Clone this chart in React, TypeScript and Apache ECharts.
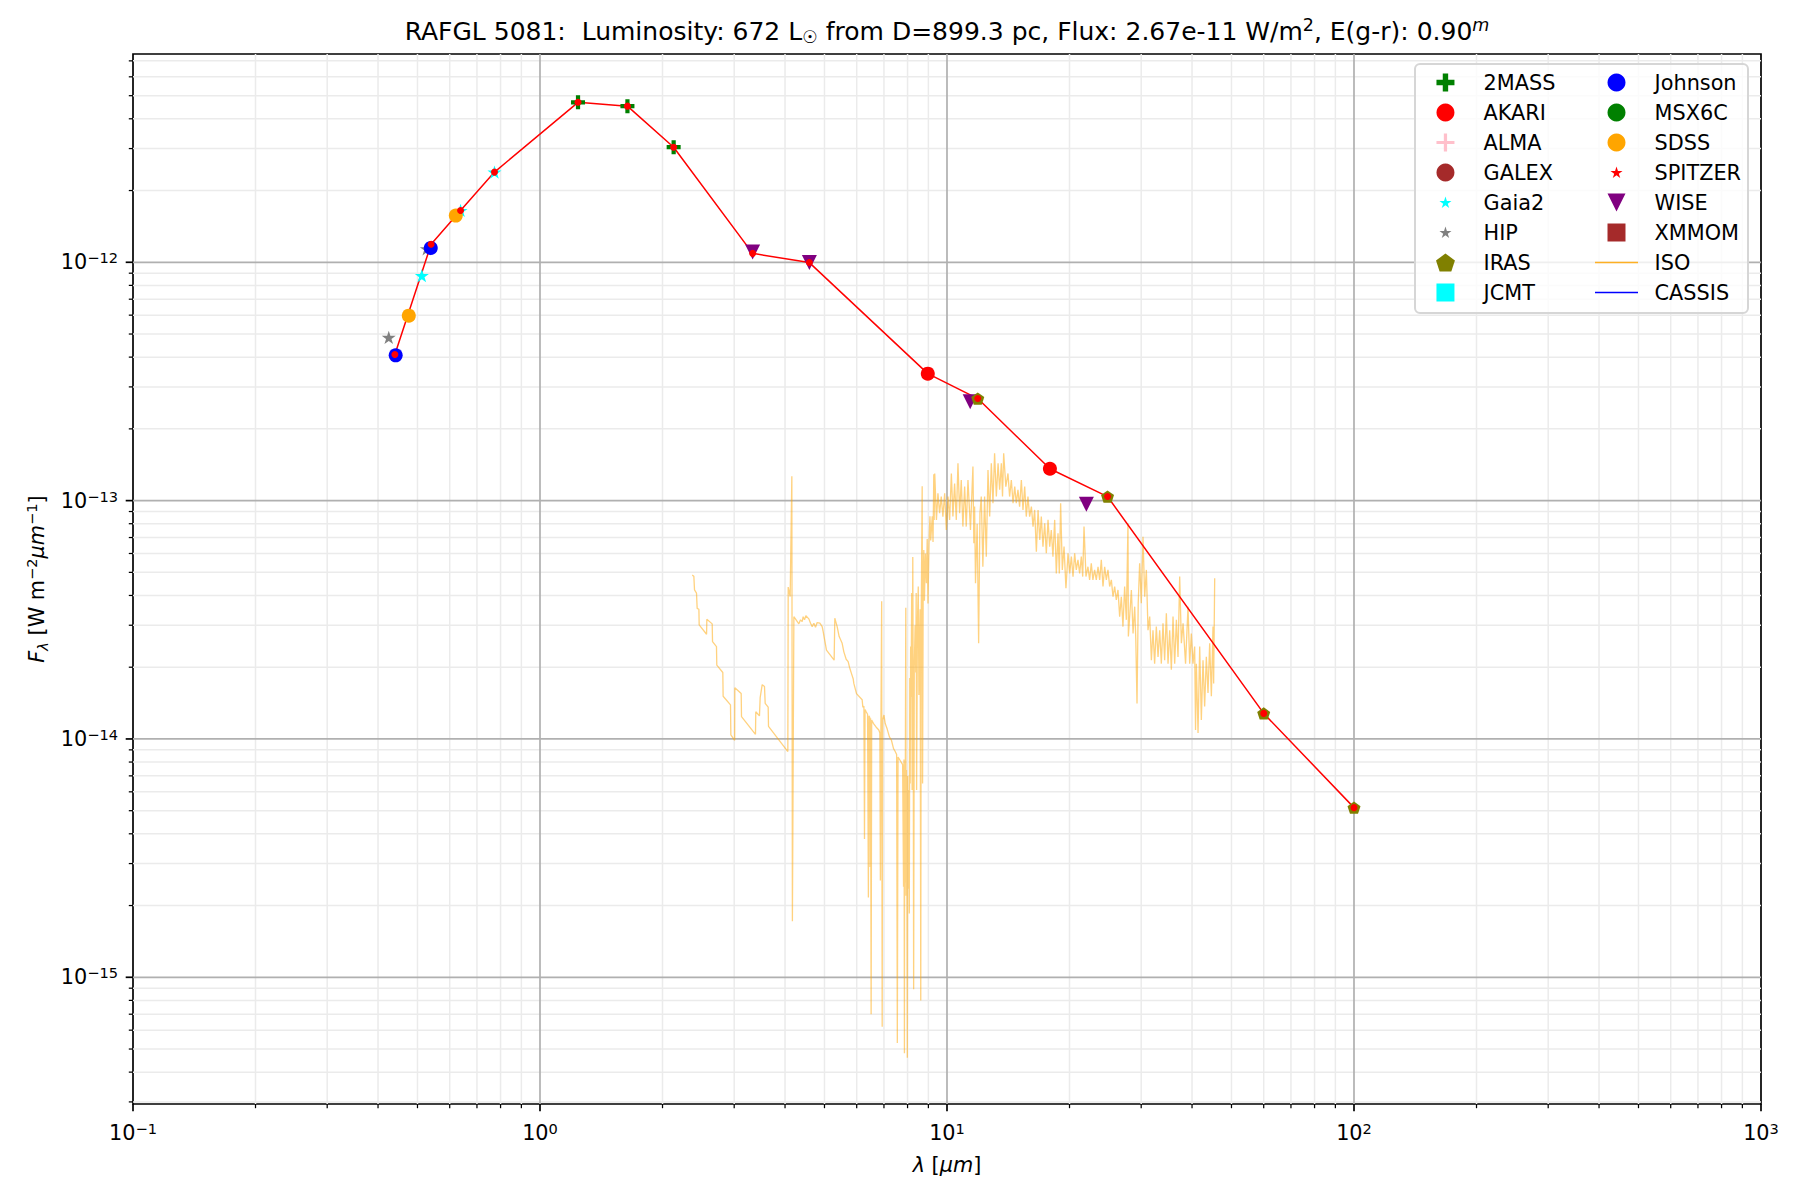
import React, { useEffect, useRef } from "react";
import * as echarts from "echarts";

const FONT = "DejaVu Sans";

// ---- axis ranges and ticks ----
const X_MIN = 0.1;
const X_MAX = 1000;
const Y_MIN = 2.94e-16;
const Y_MAX = 7.48e-12;
const X_DECADES = [0.1, 1, 10, 100, 1000];
const Y_DECADES = [1e-16, 1e-15, 1e-14, 1e-13, 1e-12, 1e-11];
const MINOR_STEPS = [2, 3, 4, 5, 6, 7, 8, 9];

// ---- photometry (wavelength µm, flux W m^-2 µm^-1) ----
const MASS2 = [[1.24, 4.69e-12], [1.64, 4.52e-12], [2.13, 3.04e-12]];
const AKARI = [[8.97, 3.41e-13], [17.9, 1.36e-13]];
const GAIA2 = [[0.5125, 8.79e-13], [0.638, 1.65e-12], [0.773, 2.39e-12]];
const HIP = [[0.425, 4.84e-13], [0.527, 1.14e-12]];
const IRAS = [[11.9, 2.68e-13], [24.8, 1.04e-13], [60, 1.28e-14], [100, 5.15e-15]];
const JOHNSON = [[0.442, 4.07e-13], [0.539, 1.148e-12]];
const SDSS = [[0.476, 5.97e-13], [0.621, 1.57e-12]];
const WISE = [[3.33, 1.105e-12], [4.59, 9.97e-13], [11.4, 2.6e-13], [22.0, 9.65e-14]];

// ---- selected SED (red line) ----
const SED_WAVE = [0.44, 0.54, 0.638, 0.773, 1.24, 1.64, 2.13, 3.33, 4.59, 8.97, 11.9, 17.9, 24.8, 60, 100];
const SED_FLUX = [4.1e-13, 1.19e-12, 1.65e-12, 2.39e-12, 4.69e-12, 4.52e-12, 3.04e-12, 1.09e-12, 9.97e-13, 3.41e-13, 2.68e-13, 1.36e-13, 1.04e-13, 1.28e-14, 5.15e-15];

// ---- ISO spectrum ----
const ISO_WAVE = [
  2.366, 2.388, 2.397, 2.424, 2.433, 2.457, 2.461, 2.566, 2.570, 2.649, 2.654, 2.714, 2.719, 2.813, 2.818, 2.938, 2.944, 3.008, 3.011,
  3.121, 3.127, 3.384, 3.390, 3.461, 3.475, 3.515, 3.561, 3.575, 3.636, 3.643, 4.064, 4.072, 4.118, 4.157, 4.170, 4.205, 4.325, 4.366,
  4.407, 4.432, 4.466, 4.500, 4.577, 4.621, 4.664, 4.708, 4.753, 4.797, 4.871, 4.935, 4.963, 5.057, 5.281, 5.301, 5.372, 5.433, 5.526,
  5.579, 5.653, 5.717, 5.760, 5.826, 5.881, 5.903, 5.993, 6.188, 6.211,
  6.25, 6.27, 6.29, 6.33, 6.38, 6.41, 6.43, 6.46, 6.47, 6.49, 6.51, 6.53, 6.60, 6.70, 6.80, 6.84, 6.86, 6.88, 6.91, 6.93, 6.95, 7.00,
  7.05, 7.13, 7.22, 7.30, 7.39, 7.45, 7.52, 7.55, 7.58, 7.68, 7.78, 7.82, 7.84, 7.86, 7.87, 7.88, 7.90, 7.92, 7.93, 7.95, 7.97, 7.99,
  8.01, 8.03, 8.06, 8.08, 8.10, 8.12, 8.14, 8.16, 8.19, 8.21, 8.24, 8.26, 8.28, 8.31, 8.35, 8.38, 8.40, 8.42, 8.46, 8.50, 8.53, 8.56,
  8.59, 8.62, 8.64, 8.69, 8.71, 8.74, 8.77, 8.80, 8.85, 8.90, 8.94, 8.98, 9.03, 9.08, 9.12, 9.20, 9.24, 9.28, 9.30,
  9.33, 9.42, 9.50, 9.59, 9.68, 9.77, 9.87, 9.96, 10.06, 10.15, 10.25, 10.34, 10.44, 10.54, 10.64, 10.74, 10.84, 10.94, 11.05, 11.15,
  11.26, 11.42, 11.58, 11.64, 11.69, 11.75, 11.86, 11.96, 12.05, 12.14, 12.25, 12.37, 12.49, 12.61, 12.73, 12.85, 12.97, 13.09, 13.22,
  13.35, 13.47, 13.60, 13.69, 13.78, 13.95, 14.12, 14.25, 14.39, 14.53, 14.67, 14.80, 14.94, 15.08, 15.23, 15.37, 15.52, 15.66, 15.81,
  15.96, 16.12, 16.27, 16.42, 16.58, 16.74, 16.90, 17.05, 17.21, 17.38, 17.54, 17.71, 17.88, 18.04, 18.21, 18.39, 18.56, 18.74, 18.88,
  19.02, 19.20, 19.39, 19.60, 19.83, 20.02, 20.21, 20.40, 20.59, 20.78, 20.98, 21.18, 21.38, 21.55, 21.71, 21.95, 22.20, 22.41, 22.62,
  22.83, 23.05, 23.27, 23.50, 23.72, 23.94, 24.17, 24.40, 24.63, 24.86, 25.10, 25.34, 25.58, 25.82, 26.06, 26.31, 26.56, 26.81, 27.06,
  27.32, 27.58, 27.84, 27.90, 28.38, 28.65, 28.92, 29.10, 29.30, 29.50, 29.74, 30.02, 30.31, 30.60, 30.89, 31.18, 31.48, 31.78, 32.07,
  32.37, 32.68, 33.00, 33.31, 33.62, 33.94, 34.26, 34.59, 34.92, 35.25, 35.58, 35.92, 36.26, 36.61, 36.95, 37.30, 37.66, 38.02, 38.56,
  39.10, 39.47, 39.84, 40.22, 40.60, 40.80, 40.99, 41.38, 41.77, 42.16, 42.56, 42.96, 43.37, 43.78, 44.20, 44.62, 45.04, 45.20, 45.47,
];
const ISO_FLUX = [
  4.87e-14, 4.81e-14, 4.22e-14, 4.09e-14, 3.53e-14, 3.50e-14, 3.01e-14, 2.75e-14, 3.18e-14, 3.04e-14, 2.56e-14, 2.44e-14, 2.04e-14, 1.90e-14, 1.51e-14, 1.39e-14, 1.04e-14, 9.87e-15, 1.64e-14,
  1.55e-14, 1.24e-14, 1.046e-14, 1.30e-14, 1.25e-14, 1.49e-14, 1.69e-14, 1.66e-14, 1.41e-14, 1.36e-14, 1.13e-14, 8.85e-15, 4.34e-14, 3.96e-14, 1.266e-13, 1.72e-15, 3.26e-14, 3.04e-14, 3.16e-14,
  3.11e-14, 3.26e-14, 3.16e-14, 3.29e-14, 3.19e-14, 3.06e-14, 2.96e-14, 3.06e-14, 2.94e-14, 3.08e-14, 3.06e-14, 2.96e-14, 2.82e-14, 2.36e-14, 2.14e-14, 3.21e-14, 2.96e-14, 2.69e-14, 2.52e-14,
  2.32e-14, 2.16e-14, 2.11e-14, 2.00e-14, 1.88e-14, 1.79e-14, 1.71e-14, 1.55e-14, 1.46e-14, 1.36e-14,
  1.37e-14, 3.80e-15, 1.33e-14, 1.30e-14, 1.27e-14, 2.16e-15, 1.25e-14, 1.23e-14, 2.90e-15, 1.22e-14, 7.0e-16, 1.20e-14, 1.16e-14, 1.12e-14, 1.09e-14, 1.06e-14, 2.55e-15, 1.10e-14, 3.78e-14, 6.2e-16, 1.20e-14, 1.26e-14,
  1.16e-14, 1.10e-14, 1.02e-14, 9.9e-15, 9.1e-15, 8.9e-15, 8.6e-15, 5.3e-16, 8.4e-15, 8.1e-15, 7.8e-15, 2.4e-15, 8.2e-15, 4.8e-16, 6.5e-15, 2.5e-15, 7.6e-15, 3.55e-14, 2.2e-15, 7.4e-15, 2.6e-15, 4.6e-16,
  7.0e-15, 2.35e-15, 6.1e-15, 1.85e-15, 1.8e-14, 6.5e-15, 2.44e-14, 1.5e-14, 4.1e-14, 6.1e-15, 5.8e-14, 1.6e-14, 8.9e-16, 2.0e-14, 3.0e-14, 1.9e-14, 4.1e-14, 6.1e-15, 3.1e-14, 4.36e-14, 1.53e-14, 2.5e-14,
  3.5e-14, 8.0e-16, 3.0e-14, 1.15e-13, 6.5e-15, 4.5e-14, 6.2e-14, 3.8e-14, 6.0e-14, 4.5e-14, 6.9e-14, 3.7e-14, 6.5e-14, 8.6e-14, 6.8e-14, 8.6e-14, 6.7e-14, 1.29e-13, 8.3e-14,
  1.30e-13, 8.3e-14, 1.074e-13, 8.85e-14, 1.04e-13, 8.57e-14, 1.074e-13, 7.53e-14, 1.04e-13, 8.3e-14, 1.30e-13, 8.57e-14, 1.18e-13, 8.3e-14, 1.434e-13, 8.85e-14, 1.22e-13, 7.78e-14, 1.145e-13, 7.78e-14,
  1.22e-13, 7.53e-14, 1.39e-13, 6.62e-14, 9.44e-14, 4.50e-14, 8.0e-14, 2.52e-14, 8.85e-14, 1.04e-13, 5.28e-14, 1.04e-13, 5.82e-14, 1.345e-13, 8.57e-14, 1.434e-13, 9.75e-14, 1.58e-13, 1.04e-13,
  1.434e-13, 1.11e-13, 1.434e-13, 1.04e-13, 1.58e-13, 1.145e-13, 1.30e-13, 1.04e-13, 1.22e-13, 9.75e-14, 1.145e-13, 9.75e-14, 1.11e-13, 9.44e-14, 1.22e-13, 9.14e-14, 1.145e-13, 8.57e-14, 1.04e-13,
  8.57e-14, 9.44e-14, 7.78e-14, 9.14e-14, 6.11e-14, 9.14e-14, 6.84e-14, 8.57e-14, 6.41e-14, 8.04e-14, 6.01e-14, 8.30e-14, 6.41e-14, 7.53e-14, 5.82e-14, 8.30e-14, 4.95e-14, 7.29e-14, 4.95e-14,
  9.75e-14, 5.12e-14, 6.41e-14, 4.29e-14, 6.01e-14, 4.95e-14, 5.82e-14, 4.80e-14, 6.01e-14, 5.12e-14, 5.64e-14, 4.95e-14, 5.82e-14, 4.80e-14, 7.78e-14, 4.80e-14, 5.28e-14, 4.65e-14, 5.46e-14,
  4.65e-14, 5.12e-14, 4.65e-14, 5.28e-14, 4.65e-14, 5.64e-14, 4.36e-14, 5.28e-14, 4.65e-14, 5.12e-14, 4.36e-14, 4.65e-14, 3.95e-14, 4.36e-14, 3.83e-14, 4.22e-14, 3.26e-14, 3.95e-14, 2.96e-14,
  4.36e-14, 3.16e-14, 8.04e-14, 2.69e-14, 4.22e-14, 2.77e-14, 3.59e-14, 2.60e-14, 1.41e-14, 3.71e-14, 5.46e-14, 3.71e-14, 7.06e-14, 3.95e-14, 5.12e-14, 2.86e-14, 3.26e-14, 2.14e-14, 2.86e-14,
  2.07e-14, 2.96e-14, 2.21e-14, 2.86e-14, 2.07e-14, 3.06e-14, 2.14e-14, 3.37e-14, 2.07e-14, 2.86e-14, 1.95e-14, 3.26e-14, 2.07e-14, 3.16e-14, 2.21e-14, 4.80e-14, 2.52e-14, 3.06e-14, 2.07e-14,
  3.59e-14, 2.07e-14, 2.77e-14, 2.07e-14, 2.44e-14, 1.09e-14, 2.07e-14, 1.06e-14, 2.44e-14, 1.20e-14, 2.14e-14, 1.37e-14, 2.21e-14, 1.56e-14, 2.52e-14, 1.51e-14, 2.96e-14, 1.71e-14, 4.72e-14,
];

// ---- legend columns ----
const LEGEND_COL1 = ["2MASS", "AKARI", "ALMA", "GALEX", "Gaia2", "HIP", "IRAS", "JCMT"];
const LEGEND_COL2 = ["Johnson", "MSX6C", "SDSS", "SPITZER", "WISE", "XMMOM", "ISO", "CASSIS"];

// ---- marker shapes ----
const PLUS_FILLED = "path://M35,0L65,0L65,35L100,35L100,65L65,65L65,100L35,100L35,65L0,65L0,35L35,35Z";
const PLUS_THIN = "path://M41,0L59,0L59,41L100,41L100,59L59,59L59,100L41,100L41,59L0,59L0,41L41,41Z";
const STAR_PATH = "M50,0L61.23,34.55L97.55,34.55L68.17,55.9L79.39,90.45L50,69.1L20.61,90.45L31.83,55.9L2.45,34.55L38.77,34.55Z";
const STAR = "path://" + STAR_PATH;
const STAR_SMALL = "path://M-22,-24M122,118" + STAR_PATH;
const PENTAGON = "path://M50,0L97.55,34.55L79.39,90.45L20.61,90.45L2.45,34.55Z";
const TRI_DOWN = "path://M0,0L100,0L50,100Z";
const SQUARE = "path://M0,0L100,0L100,100L0,100Z";
const LINE_ICON = "path://M0,0L100,0L100,3.6L0,3.6Z";

function decadeMinors(decades: number[], lo: number, hi: number): number[] {
  const out: number[] = [];
  for (const d of decades) for (const k of MINOR_STEPS) {
    const v = k * d;
    if (v > lo && v < hi) out.push(v);
  }
  return out;
}
const X_MINOR = decadeMinors(X_DECADES, X_MIN, X_MAX);
const Y_MINOR = decadeMinors(Y_DECADES, Y_MIN, Y_MAX);
const X_MAJOR = X_DECADES.filter((v) => v >= X_MIN && v <= X_MAX);
const Y_MAJOR = Y_DECADES.filter((v) => v >= Y_MIN && v <= Y_MAX);

const MAJOR_GRID = "#b0b0b0";
const MINOR_GRID = "#ebebeb";
const TICK = "#000";

function powLabel(value: number): string {
  const e = Math.log10(value);
  const r = Math.round(e);
  if (Math.abs(e - r) > 1e-6) return "";
  const s = (r < 0 ? "\u2212" : "") + Math.abs(r);
  return "{b|10}{s|" + s + "}";
}

const LABEL_RICH = {
  b: { fontFamily: FONT, fontSize: 20.8, color: "#000", lineHeight: 24 },
  s: { fontFamily: FONT, fontSize: 14.6, color: "#000", lineHeight: 15, verticalAlign: "top" },
};

function renderGrid(_params: any, api: any) {
  const lb = api.coord([X_MIN, Y_MIN]);
  const rt = api.coord([X_MAX, Y_MAX]);
  const left = lb[0], bottom = lb[1], right = rt[0], top = rt[1];
  const els: any[] = [];
  const ln = (x1: number, y1: number, x2: number, y2: number, stroke: string, w: number) =>
    els.push({ type: "line", silent: true, shape: { x1, y1, x2, y2 }, style: { stroke, lineWidth: w } });
  const px = (v: number) => api.coord([v, 1e-13])[0];
  const py = (v: number) => api.coord([1, v])[1];
  for (const v of X_MINOR) { const x = px(v); ln(x, top, x, bottom, MINOR_GRID, 1.5); }
  for (const v of Y_MINOR) { const y = py(v); ln(left, y, right, y, MINOR_GRID, 1.5); }
  for (const v of X_MAJOR) if (v > X_MIN && v < X_MAX) { const x = px(v); ln(x, top, x, bottom, MAJOR_GRID, 1.7); }
  for (const v of Y_MAJOR) { const y = py(v); ln(left, y, right, y, MAJOR_GRID, 1.7); }
  for (const v of X_MINOR) { const x = px(v); ln(x, bottom, x, bottom + 4.2, TICK, 1.25); }
  for (const v of Y_MINOR) { const y = py(v); ln(left - 4.2, y, left, y, TICK, 1.25); }
  for (const v of X_MAJOR) { const x = px(v); ln(x, bottom, x, bottom + 7.3, TICK, 1.7); }
  for (const v of Y_MAJOR) { const y = py(v); ln(left - 7.3, y, left, y, TICK, 1.7); }
  return { type: "group", children: els };
}

function scatter(name: string, data: number[][], symbol: string, color: string, size: number) {
  return {
    name,
    type: "scatter",
    data,
    symbol,
    symbolSize: size,
    symbolKeepAspect: true,
    itemStyle: { color, opacity: 1 },
    z: 3,
  };
}

function legendItems(names: string[]) {
  return names.map((n) => {
    if (n === "Gaia2" || n === "HIP" || n === "SPITZER") return { name: n, icon: STAR_SMALL };
    if (n === "ISO") return { name: n, icon: LINE_ICON, itemStyle: { color: "#ffa500", opacity: 0.85 } };
    if (n === "CASSIS") return { name: n, icon: LINE_ICON, itemStyle: { color: "#0000ff", opacity: 1 } };
    return { name: n };
  });
}

const legendText = { fontFamily: FONT, fontSize: 20.8, color: "#000", padding: [0, 0, 0, 11.6] };

const titleTok = { fontFamily: FONT, color: "#000", fontWeight: "normal" };

const option: any = {
  animation: false,
  backgroundColor: "#ffffff",
  title: {
    text:
      "{a|RAFGL 5081:  Luminosity: 672 L}{sub|\u2609}{a| from D=899.3 pc, Flux: 2.67e-11 W/m}{sup|2}{a|, E(g-r): 0.90}{supi|m}",
    left: 947,
    top: 16,
    padding: 0,
    textAlign: "center",
    textStyle: {
      fontWeight: "normal",
      fontFamily: FONT,
      rich: {
        a: { ...titleTok, fontSize: 25, lineHeight: 30 },
        sub: { ...titleTok, fontSize: 17.5, lineHeight: 17, verticalAlign: "bottom" },
        sup: { ...titleTok, fontSize: 17.5, lineHeight: 17, verticalAlign: "top" },
        supi: { ...titleTok, fontSize: 17.5, lineHeight: 17, verticalAlign: "top", fontStyle: "italic" },
      },
    },
  },
  grid: {
    left: 133,
    right: 39,
    top: 54,
    bottom: 96,
    show: true,
    borderColor: "#000",
    borderWidth: 1.7,
    backgroundColor: "transparent",
    containLabel: false,
    outerBoundsMode: "none",
  },
  xAxis: {
    type: "log",
    logBase: 10,
    min: X_MIN,
    max: X_MAX,
    splitLine: { show: false },
    minorSplitLine: { show: false },
    axisTick: { show: false },
    minorTick: { show: false },
    axisLine: { show: false },
    axisLabel: { formatter: powLabel, rich: LABEL_RICH, margin: 17, showMinLabel: true, showMaxLabel: true },
    name: "{i|\u03bb}{n| [}{i|\u03bcm}{n|]}",
    nameLocation: "middle",
    nameGap: 48,
    nameTextStyle: {
      rich: {
        i: { fontFamily: FONT, fontSize: 20.8, color: "#000", fontStyle: "italic", lineHeight: 26 },
        n: { fontFamily: FONT, fontSize: 20.8, color: "#000", lineHeight: 26 },
      },
    },
  },
  yAxis: {
    type: "log",
    logBase: 10,
    min: Y_MIN,
    max: Y_MAX,
    splitLine: { show: false },
    minorSplitLine: { show: false },
    axisTick: { show: false },
    minorTick: { show: false },
    axisLine: { show: false },
    axisLabel: { formatter: powLabel, rich: LABEL_RICH, margin: 15, showMinLabel: true, showMaxLabel: true },
    name: "{i|F}{sub|\u03bb}{n| [W m}{sup|\u22122}{i|\u03bcm}{sup|\u22121}{n|]}",
    nameLocation: "middle",
    nameRotate: 90,
    nameGap: 82,
    nameTextStyle: {
      rich: {
        i: { fontFamily: FONT, fontSize: 20.8, color: "#000", fontStyle: "italic", lineHeight: 26 },
        n: { fontFamily: FONT, fontSize: 20.8, color: "#000", lineHeight: 26 },
        sub: { fontFamily: FONT, fontSize: 14.6, color: "#000", fontStyle: "italic", lineHeight: 15, verticalAlign: "bottom" },
        sup: { fontFamily: FONT, fontSize: 14.6, color: "#000", lineHeight: 15, verticalAlign: "top" },
      },
    },
  },
  legend: [
    {
      orient: "vertical",
      left: 1436,
      top: 72,
      padding: 0,
      itemWidth: 43,
      itemHeight: 18,
      itemGap: 9.0,
      selectedMode: false,
      data: legendItems(LEGEND_COL1),
      textStyle: legendText,
      z: 5,
    },
    {
      orient: "vertical",
      left: 1595,
      top: 72,
      padding: 0,
      itemWidth: 43,
      itemHeight: 18,
      itemGap: 9.0,
      selectedMode: false,
      data: legendItems(LEGEND_COL2),
      textStyle: legendText,
      z: 5,
    },
  ],
  graphic: [
    {
      type: "rect",
      z: 4,
      silent: true,
      shape: { x: 1415, y: 64, width: 333, height: 249, r: 5 },
      style: { fill: "rgba(255,255,255,0.8)", stroke: "#d6d6d6", lineWidth: 2 },
    },
  ],
  series: [
    {
      type: "custom",
      name: "grid-lines",
      silent: true,
      clip: false,
      z: 1,
      data: [[1, 1e-13]],
      renderItem: renderGrid,
    },
    {
      name: "ISO",
      type: "line",
      data: ISO_WAVE.map((w, i) => [w, ISO_FLUX[i]]),
      symbol: "none",
      showSymbol: false,
      lineStyle: { color: "#ffa500", width: 1.3, opacity: 0.5 },
      itemStyle: { color: "#ffa500", opacity: 0.5 },
      z: 2,
    },
    scatter("2MASS", MASS2, PLUS_FILLED, "#008000", 14),
    scatter("AKARI", AKARI, "circle", "#ff0000", 14),
    scatter("ALMA", [], PLUS_THIN, "#ffc0cb", 14),
    scatter("GALEX", [], "circle", "#a52a2a", 14),
    scatter("Gaia2", GAIA2, STAR, "#00ffff", 14),
    scatter("HIP", HIP, STAR, "#808080", 14),
    scatter("WISE", WISE, TRI_DOWN, "#800080", 15),
    scatter("IRAS", IRAS, PENTAGON, "#808000", 13),
    scatter("JCMT", [], SQUARE, "#00ffff", 14),
    scatter("Johnson", JOHNSON, "circle", "#0000ff", 14),
    scatter("MSX6C", [], "circle", "#008000", 14),
    scatter("SDSS", SDSS, "circle", "#ffa500", 14),
    scatter("SPITZER", [], STAR, "#ff0000", 14),
    scatter("XMMOM", [], SQUARE, "#a52a2a", 14),
    {
      name: "CASSIS",
      type: "line",
      data: [],
      symbol: "none",
      lineStyle: { color: "#0000ff", width: 1.5 },
      itemStyle: { color: "#0000ff" },
    },
    {
      name: "SED",
      type: "line",
      data: SED_WAVE.map((w, i) => [w, SED_FLUX[i]]),
      symbol: "circle",
      symbolSize: 7,
      showSymbol: true,
      lineStyle: { color: "#ff0000", width: 1.5 },
      itemStyle: { color: "#ff0000" },
      z: 3,
    },
  ],
};

export default function App() {
  const ref = useRef<HTMLDivElement>(null);
  useEffect(() => {
    const chart = echarts.init(ref.current as HTMLDivElement, null, { renderer: "svg" });
    chart.setOption(option);
    return () => chart.dispose();
  }, []);
  return (
    <div
      ref={ref}
      style={{ position: "absolute", left: 0, top: 0, width: 1800, height: 1200, background: "#fff" }}
    />
  );
}
